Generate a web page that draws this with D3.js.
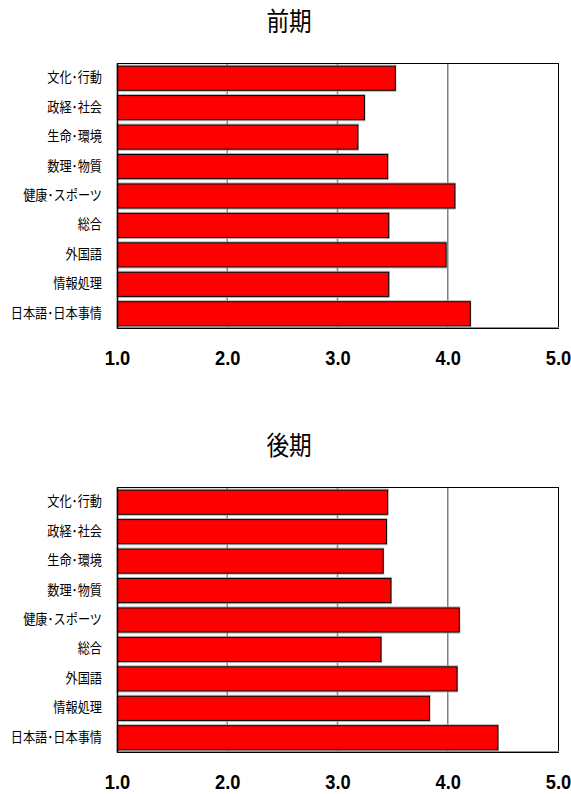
<!DOCTYPE html>
<html><head><meta charset="utf-8">
<script src="https://cdn.jsdelivr.net/npm/d3@7"></script>
<style>body{margin:0;background:#fff}</style>
</head><body>
<svg id="c" width="571" height="794"></svg>
<script>
const categories = ["文化･行動","政経･社会","生命･環境","数理･物質","健康･スポーツ","総合","外国語","情報処理","日本語･日本事情"];
const zenkiValues = [3.52, 3.24, 3.18, 3.45, 4.06, 3.46, 3.98, 3.46, 4.20];
const koukiValues = [3.45, 3.44, 3.41, 3.48, 4.10, 3.39, 4.08, 3.83, 4.45];
const tickValues = [1, 2, 3, 4, 5];
const titles = ["前期", "後期"];

const svg = d3.select("#c");
const jp = "'Noto Sans CJK JP', 'Noto Sans', sans-serif";
const sx = 0.87; // horizontal compression of text seen in the reference

function panel(offY, title, values) {
  const g = svg.append("g").attr("transform", `translate(0,${offY})`);
  const left = 117, right = 558, top = 63, bottom = 328;
  const x = d3.scaleLinear().domain([1, 5]).range([left, right]);
  const y = d3.scaleBand().domain(categories).range([top, bottom]).paddingInner(0.18).paddingOuter(0.09);

  g.append("text").attr("transform", `translate(289,31) scale(${sx},1)`).attr("text-anchor", "middle")
    .attr("font-family", jp).attr("font-size", 26).attr("font-weight", 400).attr("fill", "#000").text(title);

  // gridlines
  g.selectAll("line.grid").data(tickValues.slice(1, -1)).join("line")
    .attr("x1", d => x(d)).attr("x2", d => x(d)).attr("y1", top).attr("y2", bottom)
    .attr("stroke", "#808080").attr("stroke-width", 1.5);

  // bar shadows
  g.selectAll("rect.sh").data(values).join("rect")
    .attr("x", left).attr("y", (d, i) => y(categories[i]) - 0.5)
    .attr("width", d => x(d) - left + 1).attr("height", y.bandwidth() + 2)
    .attr("fill", "none").attr("stroke", "#b0b0b0").attr("stroke-width", 1);

  g.selectAll("rect.bar").data(values).join("rect")
    .attr("x", left + 0.5).attr("y", (d, i) => y(categories[i]) + 0.5)
    .attr("width", d => x(d) - left).attr("height", y.bandwidth())
    .attr("fill", "#ff0000").attr("stroke", "#000").attr("stroke-width", 1);

  // frame
  g.append("rect").attr("x", left + 0.5).attr("y", top + 0.5).attr("width", right - left).attr("height", bottom - top)
    .attr("fill", "none").attr("stroke", "#000").attr("stroke-width", 1);
  g.append("line").attr("x1", left).attr("x2", right + 1).attr("y1", bottom - 0.5).attr("y2", bottom - 0.5)
    .attr("stroke", "#909090").attr("stroke-width", 1);
  g.append("line").attr("x1", left).attr("x2", right + 1).attr("y1", bottom + 0.5).attr("y2", bottom + 0.5)
    .attr("stroke", "#000").attr("stroke-width", 1.2);
  g.append("line").attr("x1", left + 0.5).attr("x2", left + 0.5).attr("y1", top).attr("y2", bottom + 1)
    .attr("stroke", "#000").attr("stroke-width", 1.5);

  // category axis
  const ya = d3.axisLeft(y).tickSize(0).tickPadding(15);
  const yg = g.append("g").attr("transform", `translate(${left},0)`).call(ya);
  yg.select(".domain").remove();
  yg.selectAll("text").attr("font-family", jp).attr("font-size", 14).attr("fill", "#000")
    .attr("x", -15 / sx).attr("transform", `scale(${sx},1)`);

  // value axis
  const xa = d3.axisBottom(x).tickValues(tickValues).tickFormat(d3.format(".1f")).tickSize(0).tickPadding(22);
  const xg = g.append("g").attr("transform", `translate(0,${bottom})`).call(xa);
  xg.select(".domain").remove();
  xg.selectAll("text").attr("font-family", "'Liberation Sans', Arial, sans-serif")
    .attr("font-size", 21).attr("font-weight", "bold").attr("fill", "#000")
    .attr("transform", `scale(${sx},1)`);
}

panel(0, titles[0], zenkiValues);
panel(424, titles[1], koukiValues);
</script>
</body></html>
